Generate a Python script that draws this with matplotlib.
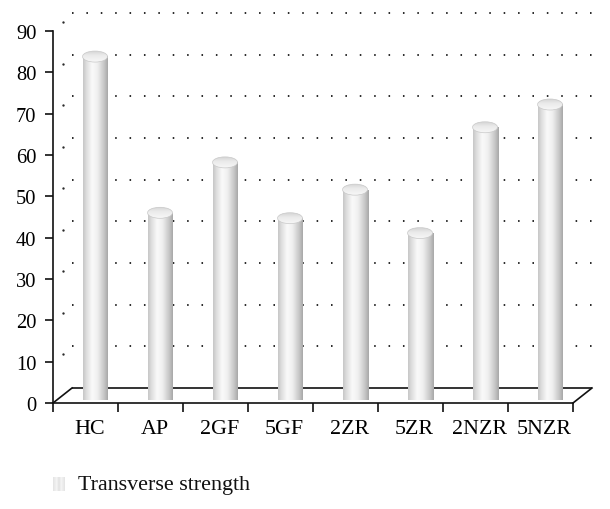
import numpy as np
import matplotlib
matplotlib.use("Agg")
import matplotlib.pyplot as plt
from matplotlib.patches import Ellipse
from matplotlib import transforms as mtransforms

categories = ["HC", "AP", "2GF", "5GF", "2ZR", "5ZR", "2NZR", "5NZR"]
values = [82.0, 44.2, 56.4, 42.9, 49.8, 39.3, 64.9, 70.4]
series_name = "Transverse strength"
yticks = list(range(0, 100, 10))

plt.rcParams['font.family'] = ['Liberation Serif', 'DejaVu Serif']

W, H, DPI = 610, 510, 100
fig = plt.figure(figsize=(W / DPI, H / DPI), dpi=DPI)
ax_l, ax_r, ax_top, ax_bot = 53, 573, 32, 404
ax = fig.add_axes([ax_l / W, (H - ax_bot) / H, (ax_r - ax_l) / W, (ax_bot - ax_top) / H])
n = len(categories)
XMIN, XMAX, YMIN, YMAX = -0.5, n - 0.5, 0, 90

px_x = (ax_r - ax_l) / (XMAX - XMIN)   # pixels per x unit
px_y = (ax_bot - ax_top) / (YMAX - YMIN)  # pixels per y unit

# depth offsets (pixels) converted to data units
DX = 19 / px_x
DY = 15 / px_y

INK = '#111111'
LW = 1.2

# floor
ax.plot([XMIN + DX, XMAX + DX], [DY, DY], color=INK, lw=LW, clip_on=False, solid_capstyle='butt', zorder=3)
ax.plot([XMIN, XMIN + DX], [0, DY], color=INK, lw=LW, clip_on=False, zorder=3)
ax.plot([XMAX, XMAX + DX], [0, DY], color=INK, lw=LW, clip_on=False, zorder=3)

# dotted grid on back wall + side wall
for v in yticks[1:]:
    dyv = (15 + 3.0 * v / 90) / px_y
    ax.plot([XMIN + DX, XMAX + DX + 0.1], [v + dyv, v + dyv], color='#2a2a2a', lw=1.4,
            linestyle=(0, (0.8, 6.6)), dash_capstyle='butt', clip_on=False, zorder=1)
    ax.plot([XMIN + DX / 2], [v + dyv / 2], marker='o', ms=1.7, color='#2a2a2a',
            mec='none', clip_on=False, zorder=1)


def gray_img(p):
    return np.stack([p, p, p], axis=-1)


# cylinder gradients
t = np.linspace(0, 1, 64)
prof = np.interp(t, [0.0, 0.12, 0.36, 0.58, 0.85, 1.0], [0.78, 0.86, 0.98, 0.94, 0.78, 0.66])
body_img = gray_img(prof)[None, :, :].repeat(2, axis=0)

tt = np.linspace(0, 1, 32)
top_prof = np.interp(tt, [0, 0.6, 1], [0.97, 0.92, 0.84])  # bottom(row0) -> top
top_img = gray_img(top_prof)[:, None, :].repeat(8, axis=1)

hw = 12.5 / px_x
eh = 11 / px_y
base = DY / 2
for i, v in enumerate(values):
    xc = i + DX / 2
    ax.imshow(body_img, extent=(xc - hw, xc + hw, base - 1.0, v + base), origin='lower',
              aspect='auto', interpolation='bilinear', zorder=4)
    ell = Ellipse((xc, v + base), 2 * hw, eh, facecolor='none', edgecolor='#c8c8c8', lw=0.5, zorder=6)
    ax.add_patch(ell)
    im = ax.imshow(top_img, extent=(xc - hw, xc + hw, v + base - eh / 2, v + base + eh / 2),
                   origin='lower', aspect='auto', interpolation='bilinear', zorder=5)
    im.set_clip_path(ell)

ax.set_xlim(XMIN, XMAX)
ax.set_ylim(YMIN, YMAX)

for s in ['top', 'right']:
    ax.spines[s].set_visible(False)
ax.spines['left'].set_linewidth(LW)
ax.spines['bottom'].set_linewidth(LW)
ax.spines['left'].set_color(INK)
ax.spines['bottom'].set_color(INK)
ax.patch.set_visible(False)

ax.set_yticks(yticks)
ax.set_yticklabels([str(v) for v in yticks])
ax.tick_params(axis='y', direction='out', length=5.8, width=LW, color=INK, pad=6.0, labelsize=14.8)
ax.set_xticks(np.arange(n + 1) - 0.5)
ax.set_xticklabels([])
ax.tick_params(axis='x', which='major', direction='out', length=6.5, width=LW, color=INK)
ax.set_xticks(np.arange(n), minor=True)
ax.set_xticklabels(categories, minor=True)
ax.tick_params(axis='x', which='minor', length=0, pad=11.5, labelsize=15.8)
shift = mtransforms.ScaledTranslation(4 / DPI, 0, fig.dpi_scale_trans)
for lab in ax.xaxis.get_minorticklabels():
    lab.set_transform(lab.get_transform() + shift)

# legend
lax = fig.add_axes([53 / W, (H - 492) / H, 12 / W, 14 / H])
lg = np.interp(np.linspace(0, 1, 12), [0, 0.3, 0.5, 0.7, 1], [0.9, 0.96, 0.88, 0.96, 0.9])
lax.imshow(gray_img(lg)[None, :, :].repeat(2, axis=0), aspect='auto', interpolation='bilinear')
lax.axis('off')
fig.text(78 / W, (H - 486) / H, series_name, fontsize=15.8, va='center', ha='left', color=INK)

fig.savefig('out.png', dpi=DPI)
